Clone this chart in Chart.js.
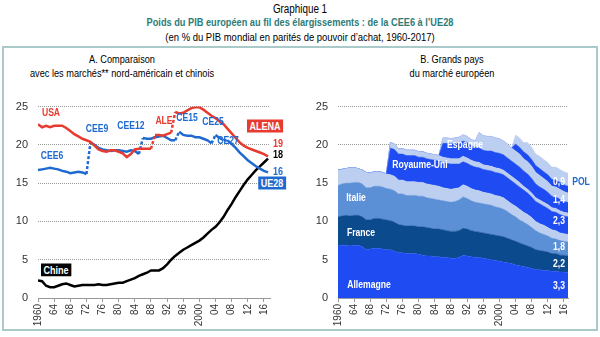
<!DOCTYPE html>
<html lang="fr">
<head>
<meta charset="UTF-8">
<script src="https://cdn.jsdelivr.net/npm/chart.js"></script>
<title>Graphique 1</title>
<style>
  body { margin: 0; background: #fff; }
  #wrap { position: relative; width: 600px; height: 337px; overflow: hidden;
          font-family: "Liberation Sans", Arial, sans-serif; color: #000; }
  .c { position: absolute; white-space: nowrap; transform: translate(-50%, -50%) scaleX(0.82); line-height: 1; }
  .b { font-weight: bold; font-size: 10.5px; }
  .box { color: #fff; padding: 1px 3px; }
  .pt { font-size: 11.5px; transform: translate(-50%, -50%) scaleX(0.8); }
  canvas { position: absolute; }
</style>
</head>
<body>
<div id="wrap">
  <div style="position:absolute;left:2px;top:46px;width:592px;height:281px;border:2px solid #a9cac8;"></div>

  <div class="c" style="left:300px;top:9px;font-size:12px;">Graphique 1</div>
  <div class="c" style="left:300px;top:23px;font-size:11.5px;font-weight:bold;color:#2e7b76;transform:translate(-50%,-50%) scaleX(0.8);">Poids du PIB européen au fil des élargissements : de la CEE6 à l’UE28</div>
  <div class="c" style="left:300px;top:37px;font-size:11px;transform:translate(-50%,-50%) scaleX(0.86);">(en % du PIB mondial en parités de pouvoir d’achat, 1960-2017)</div>

  <div class="c pt" style="left:122px;top:60px;">A. Comparaison</div>
  <div class="c pt" style="left:122px;top:74px;">avec les marchés** nord-américain et chinois</div>
  <div class="c pt" style="left:452px;top:60px;">B. Grands pays</div>
  <div class="c pt" style="left:452px;top:74px;">du marché européen</div>

  <canvas id="chartA" width="300" height="247" style="left:0;top:90px;"></canvas>
  <canvas id="chartB" width="300" height="247" style="left:300px;top:90px;"></canvas>

  <!-- panel A labels -->
  <div class="c b" style="left:51px;top:112px;color:#e63b2e;">USA</div>
  <div class="c b" style="left:52px;top:155px;color:#1f6ad0;">CEE6</div>
  <div class="c b" style="left:97px;top:128px;color:#1f6ad0;">CEE9</div>
  <div class="c b" style="left:131px;top:125px;color:#1f6ad0;">CEE12</div>
  <div class="c b" style="left:164px;top:120px;color:#e63b2e;">ALE</div>
  <div class="c b" style="left:187px;top:117px;color:#1f6ad0;">CE15</div>
  <div class="c b" style="left:213px;top:121px;color:#1f6ad0;">CE25</div>
  <div class="c b" style="left:228px;top:140px;color:#1f6ad0;">CE27</div>
  <div class="c b box" style="left:265px;top:126px;background:#e63b2e;font-size:11px;">ALENA</div>
  <div class="c b" style="left:278px;top:143px;color:#e63b2e;font-size:11px;">19</div>
  <div class="c b" style="left:278px;top:154px;color:#000;font-size:11px;">18</div>
  <div class="c b" style="left:278px;top:171px;color:#1f6ad0;font-size:11px;">16</div>
  <div class="c b box" style="left:272px;top:183px;background:#1f6ad0;font-size:11px;">UE28</div>
  <div class="c b box" style="left:56px;top:270px;background:#000;font-size:11px;">Chine</div>

  <!-- panel B labels -->
  <div class="c b" style="left:465px;top:144px;color:#fff;">Espagne</div>
  <div class="c b" style="left:420px;top:164px;color:#fff;">Royaume-Uni</div>
  <div class="c b" style="left:356px;top:197px;color:#fff;">Italie</div>
  <div class="c b" style="left:361px;top:232px;color:#fff;">France</div>
  <div class="c b" style="left:369px;top:284px;color:#fff;">Allemagne</div>
  <div class="c b" style="left:559px;top:181px;color:#fff;">0,9</div>
  <div class="c b" style="left:581px;top:181px;color:#1f6ad0;">POL</div>
  <div class="c b" style="left:559px;top:199px;color:#fff;">1,4</div>
  <div class="c b" style="left:559px;top:220px;color:#fff;">2,3</div>
  <div class="c b" style="left:559px;top:246px;color:#fff;">1,8</div>
  <div class="c b" style="left:559px;top:263px;color:#fff;">2,2</div>
  <div class="c b" style="left:559px;top:285px;color:#fff;">3,3</div>
</div>

<script>
// years 1960..2017
const years = [1960,1961,1962,1963,1964,1965,1966,1967,1968,1969,
  1970,1971,1972,1973,1974,1975,1976,1977,1978,1979,
  1980,1981,1982,1983,1984,1985,1986,1987,1988,1989,
  1990,1991,1992,1993,1994,1995,1996,1997,1998,1999,
  2000,2001,2002,2003,2004,2005,2006,2007,2008,2009,
  2010,2011,2012,2013,2014,2015,2016,2017];
const yearTicks = [1960,1964,1968,1972,1976,1980,1984,1988,1992,1996,2000,2004,2008,2012,2016];
const valueTicks = [0,5,10,15,20,25];

// panel A : % du PIB mondial
const usa = [22.7,22.3,22.5,22.3,22.5,22.5,22.5,22.2,21.8,21.4,
  21.1,20.8,20.6,20.4,19.9,19.4,19.2,19.1,19.3,19.3,
  19.1,18.9,18.4,18.8,19.4,19.5,19.5,19.5,19.5,21.3,
  21.3,21.2,21.4,21.6,24.3,24.1,24.2,24.5,24.8,24.9,
  24.9,24.6,24.2,23.8,23.5,23.1,22.7,22.1,21.5,20.9,
  20.3,19.9,19.6,19.4,19.2,19.0,18.8,18.5];
const ue = [16.7,16.8,16.9,17.0,16.9,16.8,16.6,16.5,16.3,16.4,
  16.5,16.4,16.2,20.3,20.0,19.6,19.4,19.3,19.2,19.3,
  19.3,19.2,19.1,19.3,19.2,18.8,20.9,20.8,20.8,21.0,
  21.1,21.2,20.9,20.6,20.6,21.7,21.3,21.2,21.2,21.0,
  21.0,20.8,20.6,20.2,21.3,20.9,20.6,20.6,20.1,19.6,
  19.0,18.5,18.0,17.6,17.2,16.9,16.6,16.4];
const chine = [2.3,2.2,1.6,1.4,1.4,1.6,1.8,1.9,1.7,1.5,
  1.6,1.7,1.7,1.7,1.7,1.8,1.7,1.7,1.8,1.9,
  2.0,2.0,2.2,2.4,2.6,2.9,3.1,3.3,3.6,3.6,
  3.6,3.9,4.4,5.0,5.5,5.9,6.3,6.6,6.9,7.2,
  7.5,7.9,8.4,8.9,9.3,9.9,10.6,11.5,12.3,13.2,
  14.0,14.8,15.5,16.1,16.7,17.2,17.7,18.2];
// élargissements (segments en pointillés)
const ueJumps = [1973, 1986, 1995, 2004, 2007];
const usaJumps = [1989, 1994];

// panel B : contributions empilées
const allemagne = [6.8,6.9,6.9,6.8,6.9,6.9,6.7,6.3,6.4,6.5,
  6.5,6.4,6.3,6.3,6.1,5.9,5.9,5.8,5.8,5.8,
  5.7,5.6,5.5,5.5,5.4,5.4,5.3,5.3,5.2,5.2,
  5.3,5.6,5.5,5.4,5.3,5.3,5.2,5.1,5.0,4.9,
  4.8,4.7,4.6,4.5,4.3,4.2,4.1,4.0,3.9,3.7,
  3.7,3.6,3.6,3.5,3.5,3.4,3.4,3.3];
const france = [3.8,3.8,3.9,3.9,3.9,3.9,3.9,3.9,3.8,3.9,
  3.9,3.9,3.9,3.8,3.8,3.7,3.6,3.6,3.6,3.6,
  3.6,3.7,3.7,3.6,3.6,3.6,3.6,3.5,3.5,3.5,
  3.5,3.5,3.5,3.4,3.4,3.3,3.3,3.3,3.3,3.3,
  3.3,3.3,3.2,3.1,3.1,3.0,2.9,2.8,2.7,2.6,
  2.5,2.5,2.4,2.3,2.3,2.2,2.2,2.2];
const italie = [4.1,4.2,4.2,4.3,4.3,4.3,4.3,4.2,4.2,4.2,
  4.2,4.2,4.1,4.1,4.1,4.0,4.1,4.0,4.0,4.0,
  4.0,4.0,3.9,3.9,3.9,3.8,3.8,3.8,3.8,3.9,
  4.0,4.1,4.0,3.9,3.8,3.8,3.8,3.8,3.8,3.7,
  3.7,3.6,3.5,3.3,3.2,3.0,2.9,2.8,2.6,2.5,
  2.3,2.2,2.1,2.0,1.9,1.9,1.8,1.8];
const autresCEE6 = [2.0,1.9,1.9,2.0,1.9,1.8,1.8,2.0,1.9,1.9,
  1.9,1.9,1.9,1.9,1.9,1.8,1.8,1.8,1.8,1.8,
  1.8,1.8,1.8,1.8,1.8,1.8,1.7,1.7,1.7,1.7,
  1.6,1.6,1.6,1.6,1.6,1.6,1.5,1.5,1.5,1.5,
  1.5,1.5,1.4,1.4,1.4,1.4,1.3,1.3,1.3,1.2,
  1.2,1.2,1.1,1.1,1.1,1.0,1.0,1.0];
const royaumeUni = [0,0,0,0,0,0,0,0,0,0,
  0,0,0,3.5,3.5,3.4,3.4,3.4,3.4,3.4,
  3.3,3.3,3.3,3.3,3.3,3.3,3.3,3.3,3.3,3.2,
  3.1,3.0,3.0,3.0,3.0,3.0,3.0,3.0,3.0,3.0,
  3.0,3.0,3.0,3.0,2.9,2.9,2.9,2.8,2.7,2.6,
  2.6,2.5,2.5,2.4,2.4,2.4,2.3,2.3];
const autresCEE9 = [0,0,0,0,0,0,0,0,0,0,
  0,0,0,0.7,0.7,0.7,0.7,0.7,0.7,0.7,
  0.7,0.7,0.7,0.7,0.7,0.7,0.7,0.7,0.7,0.7,
  0.7,0.7,0.7,0.7,0.7,0.7,0.6,0.6,0.6,0.6,
  0.6,0.6,0.6,0.6,0.6,0.6,0.5,0.5,0.5,0.5,
  0.5,0.5,0.5,0.5,0.5,0.5,0.5,0.5];
const espagne = [0,0,0,0,0,0,0,0,0,0,
  0,0,0,0,0,0,0,0,0,0,
  0,0,0,0,0,0,1.8,1.9,1.9,2.0,
  2.0,2.0,2.0,1.9,1.9,1.9,1.9,1.9,2.0,2.0,
  2.0,2.0,2.0,2.0,2.0,2.0,2.0,2.0,1.9,1.8,
  1.7,1.7,1.6,1.5,1.5,1.5,1.4,1.4];
const autresCE15 = [0,0,0,0,0,0,0,0,0,0,
  0,0,0,0,0,0,0,0,0,0,
  0,0,0,0,0,0,0.7,0.7,0.7,0.7,
  0.8,0.8,0.8,0.8,0.8,2.0,1.9,1.9,1.9,1.9,
  1.9,1.8,1.8,1.7,1.7,1.7,1.6,1.6,1.6,1.5,
  1.5,1.4,1.4,1.3,1.3,1.3,1.3,1.2];
const pologne = [0,0,0,0,0,0,0,0,0,0,
  0,0,0,0,0,0,0,0,0,0,
  0,0,0,0,0,0,0,0,0,0,
  0,0,0,0,0,0,0,0,0,0,
  0,0,0,0,0.9,0.9,0.9,0.9,0.9,0.9,
  0.9,0.9,0.9,0.9,0.9,0.9,0.9,0.9];
const autresUE28 = [0,0,0,0,0,0,0,0,0,0,
  0,0,0,0,0,0,0,0,0,0,
  0,0,0,0,0,0,0,0,0,0,
  0,0,0,0,0,0,0,0,0,0,
  0,0,0,0,1.2,1.2,1.2,1.6,1.6,1.5,
  1.6,1.6,1.6,1.6,1.7,1.7,1.7,1.7];

const RED = '#e63b2e', BLUE = '#1f6ad0';
const BRIGHT = '#1e4cf2', DARK = '#0c4a8e', MEDIUM = '#5b8fd6', LIGHT = '#bccff0';

Chart.defaults.font.family = '"Liberation Sans", Arial, sans-serif';
Chart.defaults.font.size = 10;
Chart.defaults.color = '#333';

function axes(xMax, stacked) {
  return {
    x: {
      type: 'linear', min: 1960, max: xMax,
      afterBuildTicks: s => { s.ticks = yearTicks.map(v => ({ value: v })); },
      afterFit: s => { s.height = 39; },
      ticks: {
        autoSkip: false, minRotation: 90, maxRotation: 90, padding: 2,
        callback: v => (v === 1960 || v === 2000) ? String(v) : String(v).slice(2)
      },
      grid: { drawOnChartArea: false, tickLength: 4, color: '#999' },
      border: { color: '#999' }
    },
    y: {
      min: 0, max: 25, stacked: stacked,
      afterBuildTicks: s => { s.ticks = valueTicks.map(v => ({ value: v })); },
      afterFit: s => { s.width = 30; },
      ticks: { padding: 10, font: { size: 11 } },
      grid: { color: '#999', drawTicks: false },
      border: { display: false, dash: [1, 1] }
    }
  };
}

const dashed = (jumps) => ctx => jumps.includes(years[ctx.p1DataIndex]) ? [3, 2] : undefined;

new Chart(document.getElementById('chartA'), {
  type: 'line',
  data: {
    labels: years,
    datasets: [
      { label: 'USA / ALENA', data: usa, borderColor: RED, borderWidth: 2.5,
        segment: { borderDash: dashed(usaJumps) } },
      { label: 'CEE6 - UE28', data: ue, borderColor: BLUE, borderWidth: 2.5,
        segment: { borderDash: dashed(ueJumps) } },
      { label: 'Chine', data: chine, borderColor: '#000', borderWidth: 2.5 }
    ]
  },
  options: {
    responsive: false, animation: false, devicePixelRatio: 1,
    layout: { padding: { left: 8, right: 30, top: 8, bottom: 0 } },
    elements: { point: { radius: 0 }, line: { tension: 0, borderCapStyle: 'butt' } },
    plugins: { legend: { display: false }, tooltip: { enabled: false } },
    scales: axes(2017.5, false)
  }
});

const layers = [
  ['Allemagne', allemagne, BRIGHT],
  ['France', france, DARK],
  ['Italie', italie, MEDIUM],
  ['Autres CEE6', autresCEE6, LIGHT],
  ['Royaume-Uni', royaumeUni, BRIGHT],
  ['Autres CEE9', autresCEE9, LIGHT],
  ['Espagne', espagne, BRIGHT],
  ['Autres CE15', autresCE15, LIGHT],
  ['Pologne', pologne, BRIGHT],
  ['Autres UE28', autresUE28, LIGHT]
];

new Chart(document.getElementById('chartB'), {
  type: 'line',
  data: {
    labels: years,
    datasets: layers.map(([name, vals, col], i) => ({
      label: name, data: vals, backgroundColor: col, borderColor: col,
      borderWidth: 0.5, fill: i === 0 ? 'origin' : '-1'
    }))
  },
  options: {
    responsive: false, animation: false, devicePixelRatio: 1,
    layout: { padding: { left: 8, right: 32, top: 8, bottom: 0 } },
    elements: { point: { radius: 0 }, line: { tension: 0 } },
    plugins: { legend: { display: false }, tooltip: { enabled: false } },
    scales: axes(2017, true)
  }
});
</script>
</body>
</html>
